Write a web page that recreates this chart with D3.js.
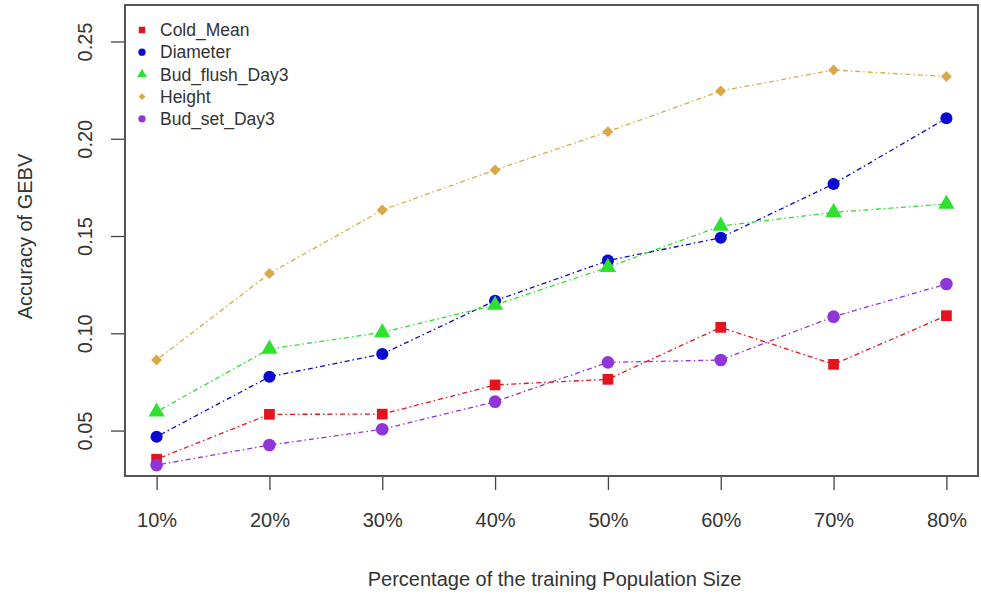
<!DOCTYPE html>
<html>
<head>
<meta charset="utf-8">
<script src="https://cdn.jsdelivr.net/npm/d3@7"></script>
<style>
  body { margin: 0; background: #fff; }
  svg text { font-family: "Liberation Sans", Arial, sans-serif; fill: #333; }
</style>
</head>
<body>
<div id="chart-area"></div>
<script>
// training population sizes
let categories = ["10%", "20%", "30%", "40%", "50%", "60%", "70%", "80%"];

// accuracy of GEBV per trait
let coldMean    = [0.0355, 0.0586, 0.0587, 0.0737, 0.0766, 0.1033, 0.0843, 0.1093];
let diameter    = [0.0471, 0.0779, 0.0896, 0.1170, 0.1376, 0.1494, 0.1770, 0.2108];
let budFlush    = [0.0599, 0.0922, 0.1007, 0.1148, 0.1342, 0.1554, 0.1624, 0.1667];
let heightVals  = [0.0865, 0.1310, 0.1636, 0.1842, 0.2039, 0.2248, 0.2356, 0.2322];
let budSet      = [0.0325, 0.0428, 0.0509, 0.0651, 0.0853, 0.0865, 0.1088, 0.1256];

let yTicks = [0.05, 0.10, 0.15, 0.20, 0.25];

// rotate = 45 turns the square into the filled diamond R uses
let series = [
  {name: "Cold_Mean",     values: coldMean,   color: "#e3141c", shape: d3.symbolSquare,   size: 115, rotate: 0},
  {name: "Diameter",      values: diameter,   color: "#0a0ad0", shape: d3.symbolCircle,   size: 115, rotate: 0},
  {name: "Bud_flush_Day3",values: budFlush,   color: "#2fe02f", shape: d3.symbolTriangle, size: 115, rotate: 0},
  {name: "Height",        values: heightVals, color: "#d9a948", shape: d3.symbolSquare,   size: 60,  rotate: 45},
  {name: "Bud_set_Day3",  values: budSet,     color: "#9134d8", shape: d3.symbolCircle,   size: 125, rotate: 0}
];

let margin = {top: 5, right: 3, bottom: 123, left: 125},
  W = 981, H = 599,
  width = W - margin.left - margin.right,
  height = H - margin.top - margin.bottom;

let svg = d3.select("#chart-area")
  .append("svg")
  .attr("width", W)
  .attr("height", H)
  .append("g")
  .attr("transform", "translate(" + margin.left + "," + margin.top + ")");

let x = d3.scalePoint().domain(categories).range([0, width]).padding(0.28);
let y = d3.scaleLinear().domain([0.0269, 0.269]).range([height, 0]);

// ---- AXES ----
let xAxis = d3.axisBottom(x).tickSize(14).tickPadding(23);
let yAxis = d3.axisLeft(y).tickValues(yTicks).tickSize(14).tickFormat(d3.format(".2f"));

let xg = svg.append("g")
  .attr("transform", "translate(0," + height + ")")
  .call(xAxis);
xg.select(".domain").remove();
xg.selectAll("line").attr("stroke", "#444").attr("stroke-width", 1.3);
xg.selectAll("text").style("font-size", "20px").attr("fill", "#333");

let yg = svg.append("g").call(yAxis);
yg.select(".domain").remove();
yg.selectAll("line").attr("stroke", "#444").attr("stroke-width", 1.3);
yg.selectAll(".tick").attr("transform", null);
yg.selectAll(".tick line").attr("transform", function(d) { return "translate(0," + y(d) + ")"; });
yg.selectAll("text")
  .style("font-size", "20px")
  .attr("fill", "#333")
  .attr("text-anchor", "middle")
  .attr("dy", "0.35em")
  .attr("x", 0)
  .attr("y", 0)
  .attr("transform", function(d) { return "translate(-40," + y(d) + ") rotate(-90)"; });

// ---- LINES AND POINTS ----
let line = d3.line()
  .x(function(d, i) { return x(categories[i]); })
  .y(function(d) { return y(d); });

series.forEach(function(s) {
  svg.append("path")
    .datum(s.values)
    .attr("d", line)
    .attr("fill", "none")
    .attr("stroke", s.color)
    .attr("stroke-width", 1.3)
    .attr("stroke-dasharray", "1.5,3,5,3");
});

series.forEach(function(s) {
  svg.selectAll(null)
    .data(s.values)
    .enter()
    .append("path")
    .attr("d", d3.symbol().type(s.shape).size(s.size))
    .attr("transform", function(d, i) {
      return "translate(" + x(categories[i]) + "," + y(d) + ") rotate(" + s.rotate + ")";
    })
    .attr("fill", s.color);
});

// ---- FRAME ----
svg.append("rect")
  .attr("width", width)
  .attr("height", height)
  .attr("fill", "none")
  .attr("stroke", "#555")
  .attr("stroke-width", 2);

// ---- LEGEND ----
let legend = svg.append("g").attr("transform", "translate(17,25)");
series.forEach(function(s, i) {
  let row = legend.append("g").attr("transform", "translate(0," + (i * 22.2) + ")");
  row.append("path")
    .attr("d", d3.symbol().type(s.shape).size(s.rotate ? 24 : 42))
    .attr("transform", "rotate(" + s.rotate + ")")
    .attr("fill", s.color);
  row.append("text")
    .attr("x", 18)
    .attr("y", 0)
    .attr("dy", "0.35em")
    .style("font-size", "17.5px")
    .attr("fill", "#333")
    .text(s.name);
});

// ---- AXIS TITLES ----
svg.append("text")
  .attr("x", width / 2 + 3)
  .attr("y", height + 110)
  .style("text-anchor", "middle")
  .style("font-size", "20px")
  .text("Percentage of the training Population Size");

svg.append("text")
  .attr("transform", "rotate(-90)")
  .attr("x", -(height / 2) + 4)
  .attr("y", -100)
  .attr("dy", "0.35em")
  .style("text-anchor", "middle")
  .style("font-size", "20px")
  .text("Accuracy of GEBV");
</script>
</body>
</html>
